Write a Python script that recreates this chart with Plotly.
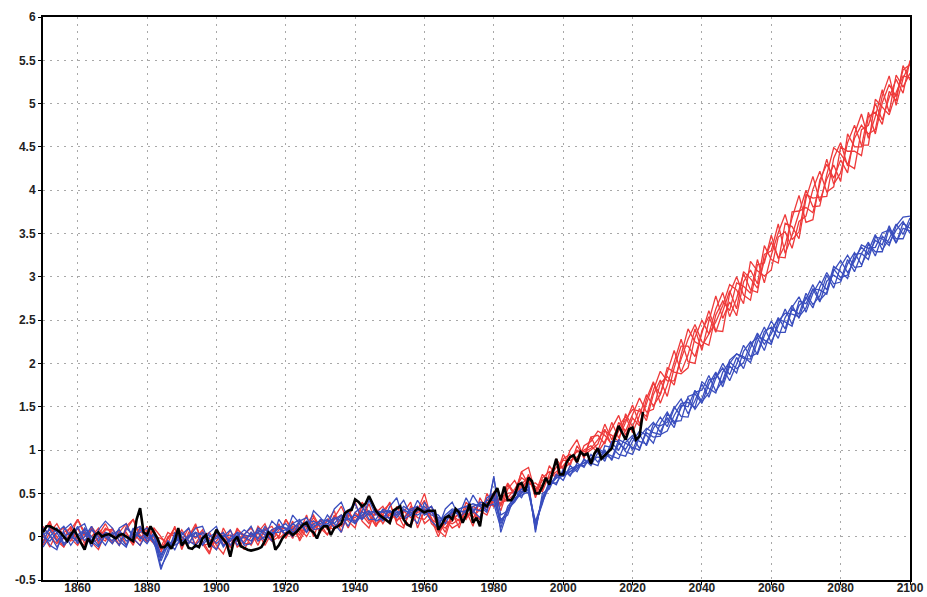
import plotly.graph_objects as go

# ---------------- data ----------------
member_years = list(range(1850, 2101, 2))
obs_years = list(range(1850, 2024))

observed = [
    0.05, 0.12, 0.12, 0.10, 0.08, 0.05, 0.0, -0.05, 0.02, 0.08,
    0.0, -0.08, -0.15, -0.02, -0.08, 0.02, 0.05, 0.0, 0.02, 0.03,
    0.0, -0.02, 0.02, 0.03, 0.0, -0.03, -0.05, 0.2, 0.33, 0.05,
    0.02, 0.12, 0.05, -0.02, -0.12, -0.12, -0.08, -0.14, -0.05, 0.1,
    -0.1, -0.05, -0.13, -0.14, -0.1, -0.12, -0.02, 0.02, -0.12, -0.02,
    0.08, 0.02, -0.03, -0.08, -0.23, -0.05, 0.0, -0.11, -0.13, -0.15,
    -0.16, -0.15, -0.14, -0.12, -0.05, 0.05, 0.02, -0.15, -0.1, -0.02,
    0.03, 0.06, 0.02, 0.05, 0.1, 0.14, 0.16, 0.08, 0.05, -0.02,
    0.08, 0.12, 0.12, 0.02, 0.1, 0.12, 0.15, 0.27, 0.3, 0.31,
    0.43, 0.4, 0.35, 0.38, 0.47, 0.38, 0.3, 0.25, 0.22, 0.2,
    0.16, 0.3, 0.33, 0.35, 0.2, 0.14, 0.12, 0.28, 0.33, 0.3,
    0.28, 0.3, 0.3, 0.3, 0.08, 0.14, 0.22, 0.24, 0.2, 0.32,
    0.28, 0.16, 0.25, 0.38, 0.16, 0.22, 0.12, 0.38, 0.35, 0.42,
    0.5, 0.56, 0.42, 0.58, 0.42, 0.42, 0.48, 0.6, 0.62, 0.52,
    0.68, 0.64, 0.5, 0.5, 0.58, 0.68, 0.6, 0.74, 0.9, 0.72,
    0.72, 0.86, 0.92, 0.94, 0.86, 0.98, 0.94, 0.96, 0.84, 0.96,
    1.02, 0.9, 0.94, 0.98, 1.02, 1.16, 1.28, 1.2, 1.12, 1.24,
    1.26, 1.12, 1.16, 1.44,
]

red_1 = [
    0.08, 0.15, -0.05, -0.12, 0.02, 0.2, 0.05, -0.08, -0.02, 0.1,
    0.05, -0.1, 0.12, 0.2, -0.02, 0.0, 0.08, -0.15, -0.02, 0.1,
    -0.12, 0.0, 0.15, -0.08, -0.2, 0.05, 0.0, -0.12, 0.08, 0.02,
    -0.1, 0.05, 0.15, -0.05, 0.0, 0.2, 0.08, -0.02, 0.15, 0.25,
    0.1, 0.02, 0.22, 0.35, 0.18, 0.1, 0.4, 0.28, 0.12, 0.25,
    0.4, 0.15, 0.1, 0.35, 0.3, 0.5, 0.2, 0.0, 0.2, 0.1,
    0.15, 0.4, 0.3, 0.2, 0.5, 0.35, 0.45, 0.62, 0.5, 0.75,
    0.8, 0.5, 0.72, 0.62, 0.9, 0.78, 1.0, 1.12, 0.9, 1.15,
    1.17, 1.07, 1.32, 1.14, 1.32, 1.52, 1.30, 1.54, 1.77, 1.64,
    1.90, 2.15, 1.90, 2.10, 2.40, 2.15, 2.49, 2.78, 2.52, 2.71,
    2.55, 2.94, 3.08, 2.92, 3.36, 3.20, 3.16, 3.62, 3.58, 3.44,
    3.90, 4.16, 3.87, 4.13, 4.29, 4.10, 4.65, 4.50, 4.50, 4.90,
    4.65, 5.01, 5.22, 5.08, 5.39, 5.45,
]
red_2 = [
    -0.05, 0.1, 0.0, -0.12, 0.08, 0.2, 0.02, -0.06, -0.15, 0.05,
    -0.08, 0.05, 0.15, -0.02, -0.1, 0.08, 0.05, -0.15, -0.02, 0.1,
    -0.1, 0.0, 0.12, -0.05, -0.18, 0.02, -0.1, 0.08, -0.12, -0.05,
    0.05, -0.1, 0.1, 0.0, 0.15, -0.02, 0.12, 0.05, 0.25, 0.0,
    0.2, 0.08, 0.25, 0.12, 0.22, 0.4, 0.18, 0.1, 0.32, 0.25,
    0.15, 0.35, 0.2, 0.12, 0.3, 0.42, 0.15, 0.08, 0.0, 0.25,
    0.18, 0.3, 0.12, 0.45, 0.3, 0.52, 0.35, 0.6, 0.48, 0.75,
    0.6, 0.62, 0.55, 0.82, 0.7, 0.95, 0.82, 1.05, 0.92, 1.15,
    0.99, 1.22, 1.17, 1.10, 1.42, 1.27, 1.48, 1.34, 1.64, 1.81,
    1.62, 1.95, 2.20, 2.20, 2.08, 2.35, 2.61, 2.38, 2.37, 2.81,
    3.00, 2.79, 2.73, 3.14, 3.16, 3.48, 3.21, 3.37, 3.68, 3.94,
    3.63, 3.66, 4.12, 4.30, 4.14, 4.35, 4.20, 4.65, 4.88, 4.60,
    4.85, 5.16, 4.90, 5.33, 5.19, 5.35,
]
red_3 = [
    0.12, 0.0, -0.08, 0.05, 0.1, -0.05, -0.1, 0.08, 0.02, 0.15,
    0.0, -0.1, 0.08, 0.2, 0.02, -0.06, 0.1, 0.0, -0.1, -0.05,
    0.08, -0.05, -0.08, 0.05, -0.02, -0.15, 0.1, -0.05, 0.0, -0.15,
    0.0, 0.05, -0.1, 0.05, 0.12, 0.0, 0.18, -0.05, 0.1, 0.22,
    0.1, 0.18, 0.3, 0.05, 0.28, 0.15, 0.35, 0.25, 0.12, 0.3,
    0.38, 0.18, 0.28, 0.4, 0.1, 0.3, 0.35, 0.18, 0.05, 0.28,
    0.1, 0.35, 0.28, 0.2, 0.42, 0.5, 0.3, 0.55, 0.65, 0.5,
    0.72, 0.45, 0.68, 0.75, 0.68, 0.9, 0.95, 0.85, 1.05, 1.1,
    1.22, 1.17, 1.07, 1.32, 1.22, 1.42, 1.60, 1.44, 1.47, 1.77,
    1.85, 1.75, 2.10, 2.40, 2.25, 2.20, 2.34, 2.63, 2.82, 2.54,
    2.75, 3.04, 2.85, 2.82, 3.26, 3.30, 3.61, 3.27, 3.48, 3.74,
    4.00, 3.81, 3.82, 4.18, 4.49, 4.42, 4.30, 4.25, 4.70, 4.75,
    5.00, 4.81, 5.07, 5.28, 5.12, 5.50,
]
red_4 = [
    -0.1, 0.05, 0.15, 0.0, -0.05, 0.1, -0.08, 0.12, 0.0, -0.05,
    0.1, -0.05, 0.02, -0.1, 0.12, 0.0, -0.08, -0.12, 0.05, 0.0,
    -0.05, 0.1, -0.1, 0.0, 0.05, -0.1, -0.2, 0.0, 0.05, -0.08,
    -0.08, 0.12, 0.02, -0.05, 0.08, 0.1, -0.02, 0.15, 0.05, 0.18,
    0.15, 0.02, 0.2, 0.25, 0.1, 0.28, 0.2, 0.38, 0.15, 0.2,
    0.25, 0.28, 0.12, 0.3, 0.35, 0.15, 0.22, 0.05, 0.15, 0.18,
    0.28, 0.2, 0.35, 0.3, 0.25, 0.45, 0.38, 0.45, 0.55, 0.68,
    0.62, 0.58, 0.52, 0.72, 0.85, 0.78, 0.85, 1.0, 0.95, 1.0,
    1.07, 1.30, 1.12, 1.27, 1.39, 1.20, 1.40, 1.64, 1.51, 1.64,
    1.95, 1.90, 1.88, 1.95, 2.30, 2.50, 2.34, 2.48, 2.67, 2.91,
    2.85, 2.69, 3.18, 3.07, 3.01, 3.08, 3.46, 3.52, 3.33, 3.64,
    3.70, 4.01, 4.22, 3.98, 4.04, 4.50, 4.45, 4.45, 4.40, 4.85,
    4.90, 4.76, 5.14, 5.03, 5.44, 5.27,
]
red_5 = [
    0.02, -0.12, 0.05, 0.1, -0.02, -0.1, 0.05, 0.0, 0.1, -0.02,
    -0.05, 0.08, -0.1, 0.05, -0.05, 0.12, -0.05, -0.18, 0.0, 0.05,
    0.0, -0.08, 0.05, -0.1, -0.08, 0.05, -0.05, -0.12, 0.1, -0.02,
    0.02, -0.05, 0.08, 0.12, -0.02, 0.05, 0.1, 0.02, 0.15, 0.08,
    0.18, 0.12, 0.08, 0.22, 0.3, 0.18, 0.25, 0.15, 0.28, 0.35,
    0.2, 0.25, 0.3, 0.22, 0.28, 0.32, 0.2, 0.15, 0.1, 0.22,
    0.25, 0.22, 0.3, 0.38, 0.35, 0.4, 0.45, 0.5, 0.52, 0.6,
    0.7, 0.55, 0.6, 0.68, 0.8, 0.88, 0.88, 0.92, 1.0, 1.05,
    0.97, 1.10, 1.25, 1.40, 1.17, 1.37, 1.28, 1.59, 1.79, 1.54,
    1.75, 2.02, 2.28, 2.02, 2.00, 2.38, 2.54, 2.36, 2.59, 2.84,
    2.63, 3.06, 2.98, 2.87, 3.19, 3.40, 3.23, 3.22, 3.75, 3.76,
    3.80, 3.74, 4.07, 4.36, 4.07, 4.20, 4.55, 4.75, 4.52, 4.52,
    5.05, 4.96, 4.87, 5.13, 5.32, 5.30,
]
red_6 = [
    0.05, 0.18, -0.05, -0.02, 0.12, -0.08, 0.0, 0.1, -0.08, 0.08,
    0.08, 0.0, 0.05, -0.08, 0.08, -0.05, 0.0, -0.02, -0.08, 0.12,
    -0.15, 0.05, -0.02, 0.08, -0.12, -0.05, 0.05, -0.1, -0.05, 0.02,
    0.1, -0.02, 0.0, 0.08, 0.0, 0.2, 0.05, 0.1, 0.0, 0.15,
    0.05, 0.2, 0.12, 0.15, 0.25, 0.22, 0.3, 0.18, 0.28, 0.15,
    0.28, 0.2, 0.22, 0.32, 0.22, 0.2, 0.3, 0.1, 0.18, 0.15,
    0.2, 0.28, 0.22, 0.32, 0.4, 0.35, 0.4, 0.42, 0.5, 0.58,
    0.65, 0.52, 0.65, 0.68, 0.75, 0.82, 0.92, 0.98, 0.98, 1.02,
    1.12, 1.24, 1.05, 1.22, 1.35, 1.47, 1.45, 1.39, 1.69, 1.91,
    1.80, 1.80, 2.05, 2.28, 2.45, 2.25, 2.21, 2.56, 2.72, 2.61,
    2.93, 2.89, 2.81, 3.20, 2.93, 3.25, 3.51, 3.72, 3.43, 3.52,
    3.95, 3.91, 3.92, 3.93, 4.37, 4.55, 4.28, 4.60, 4.75, 4.65,
    4.70, 5.09, 5.32, 4.98, 5.29, 5.47,
]

blue_1 = [
    0.05, -0.1, -0.15, 0.08, 0.15, 0.0, 0.05, -0.12, 0.08, 0.18,
    0.1, -0.05, -0.12, 0.08, 0.12, -0.05, 0.02, -0.35, -0.2, 0.05,
    -0.1, -0.02, 0.1, 0.12, -0.08, -0.15, 0.0, 0.08, -0.1, 0.02,
    0.12, -0.05, 0.0, 0.18, 0.1, 0.02, 0.25, 0.15, 0.05, 0.3,
    0.22, 0.12, 0.32, 0.4, 0.2, 0.15, 0.3, 0.45, 0.3, 0.18,
    0.35, 0.45, 0.2, 0.25, 0.42, 0.3, 0.18, 0.1, 0.32, 0.4,
    0.22, 0.3, 0.48, 0.35, 0.28, 0.7, 0.05, 0.3, 0.52, 0.45,
    0.62, 0.05, 0.5, 0.55, 0.72, 0.65, 0.82, 0.75, 0.9, 0.82,
    0.97, 0.87, 1.08, 1.00, 1.15, 1.00, 1.18, 1.05, 1.25, 1.38,
    1.27, 1.48, 1.59, 1.42, 1.57, 1.76, 1.61, 1.83, 2.00, 1.87,
    2.07, 1.94, 2.18, 2.35, 2.22, 2.34, 2.53, 2.40, 2.65, 2.77,
    2.59, 2.81, 2.95, 2.85, 3.12, 3.06, 2.98, 3.26, 3.27, 3.20,
    3.46, 3.44, 3.36, 3.59, 3.69, 3.70,
]
blue_2 = [
    -0.08, 0.12, 0.05, -0.1, -0.02, 0.1, 0.15, -0.05, -0.12, 0.02,
    -0.05, 0.1, 0.15, -0.02, -0.1, 0.05, -0.08, -0.25, -0.05, -0.15,
    0.02, 0.1, -0.12, -0.08, 0.05, 0.12, -0.1, -0.05, 0.05, -0.1,
    -0.08, 0.1, 0.05, -0.05, 0.2, 0.08, 0.0, 0.18, 0.22, 0.08,
    0.1, 0.25, 0.15, 0.05, 0.3, 0.38, 0.2, 0.42, 0.25, 0.3,
    0.2, 0.32, 0.42, 0.25, 0.15, 0.4, 0.28, 0.25, 0.15, 0.3,
    0.25, 0.45, 0.3, 0.22, 0.45, 0.5, 0.2, 0.25, 0.48, 0.55,
    0.5, 0.15, 0.38, 0.65, 0.6, 0.78, 0.7, 0.85, 0.8, 0.95,
    0.86, 1.00, 0.88, 1.08, 1.01, 1.15, 1.02, 1.20, 1.15, 1.16,
    1.42, 1.33, 1.34, 1.62, 1.65, 1.54, 1.76, 1.90, 1.73, 1.97,
    1.89, 2.14, 2.25, 2.10, 2.32, 2.49, 2.36, 2.36, 2.63, 2.57,
    2.81, 2.68, 2.78, 3.02, 2.87, 3.12, 3.25, 3.11, 3.12, 3.38,
    3.29, 3.29, 3.56, 3.44, 3.44, 3.63,
]
blue_3 = [
    0.1, 0.02, -0.12, 0.0, 0.05, -0.08, 0.1, 0.0, -0.1, 0.02,
    0.0, -0.1, 0.1, 0.02, 0.0, -0.08, 0.05, -0.22, -0.05, -0.1,
    -0.05, 0.0, 0.05, -0.1, 0.0, 0.05, -0.12, -0.02, 0.0, 0.08,
    0.02, 0.05, -0.05, 0.08, 0.12, 0.02, 0.15, 0.2, 0.05, 0.15,
    0.18, 0.1, 0.2, 0.25, 0.12, 0.28, 0.35, 0.2, 0.2, 0.32,
    0.28, 0.3, 0.2, 0.32, 0.35, 0.25, 0.3, 0.15, 0.25, 0.32,
    0.3, 0.28, 0.35, 0.38, 0.3, 0.68, 0.25, 0.3, 0.42, 0.5,
    0.58, 0.08, 0.45, 0.58, 0.68, 0.7, 0.78, 0.82, 0.82, 0.9,
    1.02, 0.97, 0.93, 0.90, 1.09, 1.17, 1.10, 1.07, 1.30, 1.28,
    1.32, 1.50, 1.39, 1.38, 1.67, 1.69, 1.86, 1.68, 1.80, 2.04,
    2.11, 2.08, 2.01, 2.25, 2.42, 2.24, 2.43, 2.63, 2.45, 2.67,
    2.74, 2.91, 2.73, 2.82, 3.07, 3.19, 3.05, 3.18, 3.37, 3.33,
    3.34, 3.51, 3.54, 3.39, 3.56, 3.53,
]
blue_4 = [
    -0.12, 0.0, 0.1, -0.08, 0.0, 0.12, -0.05, 0.08, 0.0, -0.1,
    0.05, 0.0, -0.1, 0.1, -0.02, 0.05, -0.05, -0.38, -0.15, 0.02,
    0.0, -0.08, 0.05, 0.02, -0.1, 0.0, 0.05, -0.1, 0.02, -0.08,
    0.05, -0.02, 0.12, 0.02, 0.1, 0.15, 0.05, 0.1, 0.18, 0.12,
    0.15, 0.2, 0.1, 0.22, 0.28, 0.15, 0.25, 0.3, 0.18, 0.22,
    0.3, 0.22, 0.32, 0.25, 0.3, 0.35, 0.25, 0.22, 0.2, 0.25,
    0.32, 0.35, 0.28, 0.4, 0.38, 0.45, 0.15, 0.32, 0.4, 0.52,
    0.55, 0.1, 0.45, 0.62, 0.62, 0.75, 0.72, 0.78, 0.88, 0.85,
    0.82, 1.05, 1.03, 0.95, 0.93, 1.10, 1.22, 1.17, 1.08, 1.31,
    1.44, 1.30, 1.49, 1.60, 1.47, 1.59, 1.81, 1.83, 1.95, 1.80,
    1.99, 2.21, 2.08, 2.12, 2.37, 2.42, 2.29, 2.53, 2.67, 2.52,
    2.77, 2.64, 2.88, 3.05, 2.92, 2.94, 3.15, 3.28, 3.14, 3.30,
    3.49, 3.31, 3.44, 3.61, 3.49, 3.68,
]
blue_5 = [
    0.02, 0.08, -0.05, 0.05, -0.1, 0.02, 0.08, -0.05, 0.05, 0.0,
    -0.08, 0.05, 0.0, -0.05, 0.1, -0.02, 0.02, -0.28, -0.1, -0.08,
    0.05, -0.05, -0.1, 0.0, 0.02, -0.08, 0.0, 0.02, -0.05, 0.0,
    -0.05, 0.08, 0.02, 0.05, 0.05, 0.08, 0.15, 0.1, 0.15, 0.18,
    0.12, 0.15, 0.22, 0.18, 0.2, 0.25, 0.2, 0.28, 0.3, 0.22,
    0.22, 0.28, 0.3, 0.28, 0.25, 0.3, 0.35, 0.18, 0.2, 0.28,
    0.28, 0.3, 0.32, 0.3, 0.35, 0.38, 0.1, 0.35, 0.45, 0.48,
    0.52, 0.18, 0.4, 0.58, 0.68, 0.7, 0.75, 0.8, 0.85, 0.88,
    0.92, 0.90, 1.10, 1.10, 0.98, 0.95, 1.15, 1.25, 1.20, 1.18,
    1.22, 1.40, 1.54, 1.55, 1.49, 1.79, 1.71, 1.66, 1.90, 2.02,
    1.94, 2.01, 2.23, 2.30, 2.15, 2.39, 2.51, 2.48, 2.43, 2.72,
    2.69, 2.86, 2.71, 2.95, 3.02, 2.96, 3.20, 3.06, 3.27, 3.40,
    3.24, 3.47, 3.39, 3.54, 3.64, 3.50,
]
blue_6 = [
    0.0, -0.05, 0.05, 0.12, 0.0, -0.05, 0.0, 0.12, -0.05, 0.05,
    0.02, 0.08, -0.05, 0.0, 0.05, 0.1, -0.08, -0.2, -0.12, -0.02,
    -0.08, 0.02, 0.0, 0.05, -0.05, -0.02, 0.02, -0.05, 0.05, 0.02,
    0.0, 0.05, 0.08, 0.02, 0.12, 0.1, 0.08, 0.18, 0.12, 0.1,
    0.2, 0.18, 0.15, 0.25, 0.2, 0.18, 0.28, 0.25, 0.3, 0.28,
    0.3, 0.25, 0.35, 0.3, 0.32, 0.28, 0.35, 0.2, 0.22, 0.3,
    0.32, 0.35, 0.38, 0.35, 0.42, 0.42, 0.18, 0.3, 0.42, 0.55,
    0.58, 0.12, 0.42, 0.6, 0.7, 0.72, 0.75, 0.82, 0.85, 0.9,
    1.00, 0.95, 0.90, 1.12, 1.08, 1.03, 1.00, 1.23, 1.32, 1.21,
    1.37, 1.26, 1.52, 1.50, 1.69, 1.56, 1.66, 1.88, 1.77, 2.00,
    2.11, 2.06, 2.05, 2.32, 2.27, 2.22, 2.49, 2.58, 2.57, 2.54,
    2.64, 2.86, 2.85, 2.80, 3.09, 2.99, 3.02, 3.21, 3.34, 3.26,
    3.42, 3.37, 3.59, 3.39, 3.62, 3.56,
]

red_members = [red_1, red_2, red_3, red_4, red_5, red_6]
blue_members = [blue_1, blue_2, blue_3, blue_4, blue_5, blue_6]

x_tick_vals = [1860, 1880, 1900, 1920, 1940, 1960, 1980, 2000, 2020, 2040, 2060, 2080, 2100]
x_tick_text = ["1860", "1880", "1900", "1920", "1940", "1960", "1980", "2000", "2020", "2040", "2060", "2080", "2100"]
y_tick_vals = [-0.5, 0, 0.5, 1, 1.5, 2, 2.5, 3, 3.5, 4, 4.5, 5, 5.5, 6]
y_tick_text = ["-0.5", "0", "0.5", "1", "1.5", "2", "2.5", "3", "3.5", "4", "4.5", "5", "5.5", "6"]

# ---------------- figure ----------------
RED = "rgb(238,58,58)"
BLUE = "rgb(58,78,190)"

fig = go.Figure()
for m in red_members:
    fig.add_trace(go.Scatter(x=member_years, y=m, mode="lines",
                             line=dict(color=RED, width=1.3), showlegend=False, hoverinfo="skip"))
for m in blue_members:
    fig.add_trace(go.Scatter(x=member_years, y=m, mode="lines",
                             line=dict(color=BLUE, width=1.3), showlegend=False, hoverinfo="skip"))
fig.add_trace(go.Scatter(x=obs_years, y=observed, mode="lines",
                         line=dict(color="black", width=2.6), showlegend=False, hoverinfo="skip"))

tick_font = dict(family="Liberation Sans, Arial, sans-serif", size=12, color="#222", weight="bold")

fig.update_layout(
    width=927, height=597,
    margin=dict(l=43, r=17, t=17, b=17, autoexpand=False),
    paper_bgcolor="white", plot_bgcolor="white",
    showlegend=False,
)
common = dict(
    showgrid=True, gridcolor="#a8a8a8", griddash="2px,5px", gridwidth=1,
    showline=True, linecolor="black", linewidth=2, mirror=True,
    ticks="outside", ticklen=3, tickcolor="black", tickfont=tick_font,
    zeroline=False, automargin=False,
)
fig.update_xaxes(range=[1850, 2100], tickmode="array", tickvals=x_tick_vals, ticktext=x_tick_text,
                 ticklabelstandoff=-7, **common)
fig.update_yaxes(range=[-0.5, 6], tickmode="array", tickvals=y_tick_vals, ticktext=y_tick_text, **common)

fig.write_html(
    "out.html",
    config={"displayModeBar": False},
    post_script="document.body.style.margin='0px';document.body.style.overflow='hidden';",
)
